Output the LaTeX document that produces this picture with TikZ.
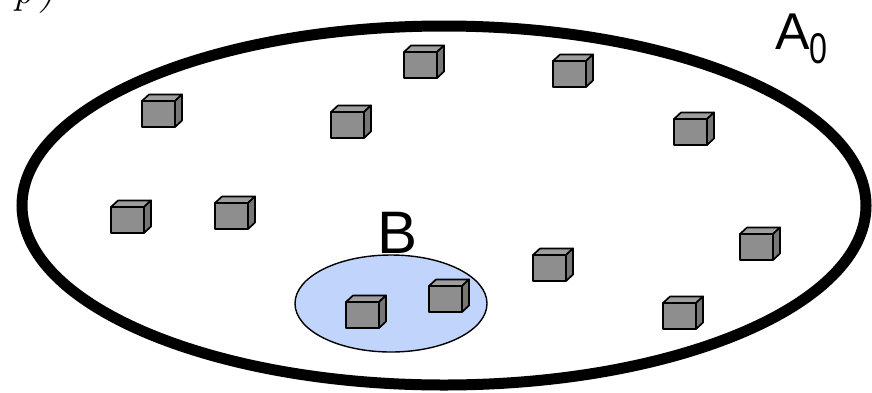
\documentclass[tikz,border=0pt]{standalone}
\usepackage{fontspec}
\setmainfont{Liberation Sans}
\newfontfamily\capfont{Latin Modern Roman}
\definecolor{setblue}{RGB}{192,212,252}
\definecolor{cubefront}{RGB}{142,142,142}
\definecolor{cubetop}{RGB}{158,158,158}
\definecolor{cubeside}{RGB}{118,118,118}
\tikzset{
  outerset/.style={draw=black, line width=11pt},
  innerset/.style={draw=black, fill=setblue, line width=1.4pt},
  setlabel/.style={inner sep=0pt, anchor=base},
  cube/.pic={
    \begin{scope}[draw=black, line width=1.7pt, line join=round]
      \filldraw[fill=cubetop]   (0,0) -- (7,-6.5) -- (40,-6.5) -- (33,0) -- cycle;
      \filldraw[fill=cubeside]  (33,0) -- (40,-6.5) -- (40,19.5) -- (33,26) -- cycle;
      \filldraw[fill=cubefront] (0,0) rectangle (33,26);
    \end{scope}
  }
}
\begin{document}
\begin{tikzpicture}[x=1pt, y=-1pt]
  \useasboundingbox (0,0) rectangle (872,392);

  % partly visible caption at the top edge
  \node[inner sep=0pt, anchor=base west, font=\capfont\itshape\fontsize{40}{40}\selectfont] (cap) at (13,3) {p\,)};

  % universe A_0
  \draw[outerset] (444,205.5) ellipse [x radius=422pt, y radius=179.5pt];
  \node[inner sep=0pt, anchor=base west, font=\fontsize{51.7}{52}\selectfont] (a0) at (775,49)
    {A\raisebox{-14pt}{\fontsize{43}{43}\selectfont\scalebox{0.75}[1]{0}}};

  % subset B
  \draw[innerset] (391,303.5) ellipse [x radius=96pt, y radius=48.5pt];
  \node[setlabel, font=\fontsize{60}{60}\selectfont] (b) at (398,253) {B};

  % scattered elements
  \foreach \x/\y in {142/101, 331/112, 404/52, 553/61, 674/119, 111/207,
                     215/203, 533/255, 740/234, 663/303, 346/302, 429/286}
    \pic at (\x,\y) {cube};
\end{tikzpicture}
\end{document}
